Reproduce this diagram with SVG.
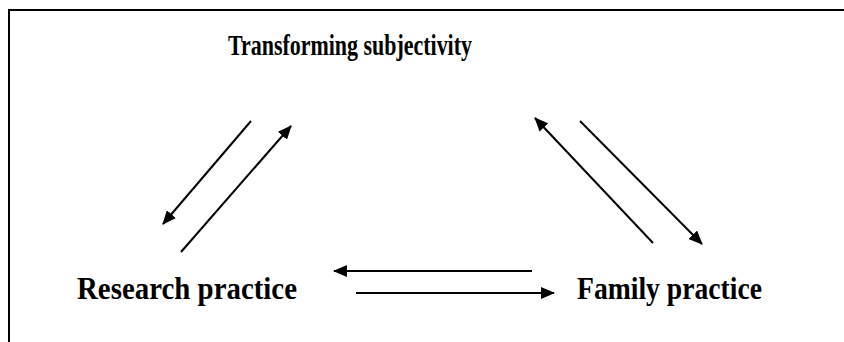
<svg xmlns="http://www.w3.org/2000/svg" width="844" height="342" viewBox="0 0 844 342">
<defs>
<marker id="ah" viewBox="0 0 14 12" refX="13" refY="6" markerWidth="14" markerHeight="12" markerUnits="userSpaceOnUse" orient="auto">
<path d="M0,0 L14,6 L0,12 z" fill="#000"/>
</marker>
<style>
.lbl{font-family:"Liberation Serif","Times New Roman",serif;font-weight:bold;font-size:31px;fill:#000}
.ttl{font-size:29px}
.c{stroke:#000;stroke-width:2;fill:none;marker-end:url(#ah)}
</style>
</defs>
<rect width="844" height="342" fill="#fff"/>
<path d="M9,342 V10 H844" stroke="#000" stroke-width="2" fill="none"/>
<g id="node-transforming"><text class="lbl ttl" x="228" y="55" textLength="244" lengthAdjust="spacingAndGlyphs">Transforming subjectivity</text></g>
<g id="node-research"><text class="lbl" x="77" y="299" textLength="220" lengthAdjust="spacingAndGlyphs">Research practice</text></g>
<g id="node-family"><text class="lbl" x="577" y="299" textLength="185" lengthAdjust="spacingAndGlyphs">Family practice</text></g>
<g id="connectors">
<line class="c" x1="251" y1="121" x2="163" y2="224"/>
<line class="c" x1="181" y1="252" x2="291" y2="126"/>
<line class="c" x1="653" y1="243" x2="535" y2="118"/>
<line class="c" x1="580" y1="121" x2="702" y2="244"/>
<line class="c" x1="532" y1="271" x2="334" y2="271"/>
<line class="c" x1="356" y1="293" x2="554" y2="293"/>
</g>
</svg>
